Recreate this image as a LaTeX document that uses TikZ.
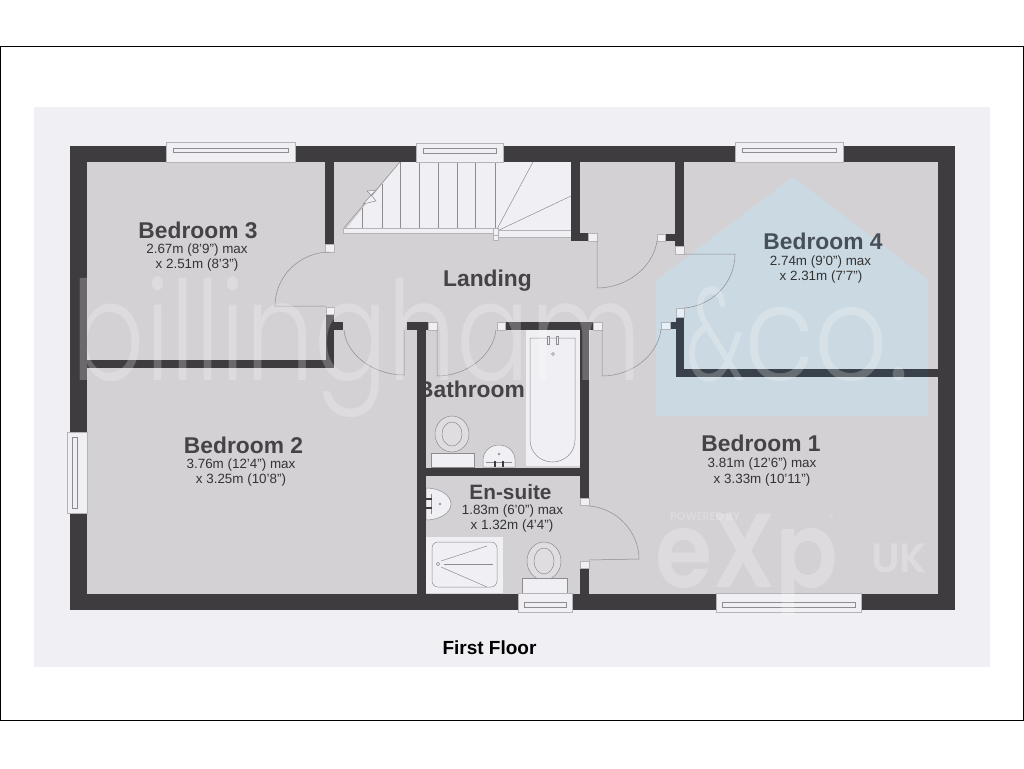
\documentclass[tikz,border=0pt]{standalone}
\usepackage{xcolor}
\usepackage{fontspec}
\setmainfont{Liberation Sans}
\newfontfamily\markfont{Poppins Light}
\newfontfamily\logofont{Poppins SemiBold}
\definecolor{wallgray}{HTML}{3F3C40}
\definecolor{wallblue}{HTML}{39424A}
\definecolor{floorgray}{HTML}{D3D1D4}
\definecolor{palegray}{HTML}{F0EFF3}
\definecolor{paleblue}{HTML}{E4F1FA}
\definecolor{houseblue}{HTML}{CBD9E2}
\definecolor{linegray}{HTML}{8E8C90}
\definecolor{framegray}{HTML}{B5B3B7}
\definecolor{labelgray}{HTML}{454347}
\definecolor{labelblue}{HTML}{47505A}
\tikzset{wall/.style={fill=wallgray}}
\tikzset{fixture/.style={draw=linegray,line width=0.5pt,fill=palegray}}
\tikzset{glass/.style={draw=framegray,line width=0.7pt,fill=palegray}}
\tikzset{thinline/.style={draw=linegray,line width=0.5pt}}
\tikzset{jamb/.style={draw=framegray,line width=0.4pt,fill=palegray}}
\tikzset{roomname/.style={text=labelgray,font=\fontsize{22.8}{24}\selectfont\bfseries,inner sep=0pt}}
\tikzset{roomsize/.style={text=black!80,font=\fontsize{13.4}{15}\selectfont,inner sep=0pt}}
\tikzset{watermark/.style={text=white,text opacity=0.23,inner sep=0pt,anchor=base west,transform shape}}
\begin{document}
\begin{tikzpicture}[x=1pt,y=-1pt]
    \useasboundingbox (0,0) rectangle (1024,768);
    % draw the page
    \fill[white] (0,0) rectangle (1024,768);
    \draw[black,line width=1pt] (0.5,47) rectangle (1023.5,720);
    \fill[palegray] (34,107) rectangle (990,667);
    \fill[floorgray] (70,146) rectangle (955,610);
    \fill[houseblue] (656,280) -- (793,177) -- (928,280) -- (928,416) -- (656,416) -- cycle;

    % draw the stairs
    \fill[palegray] (343,233) -- (400,162) -- (571,162) -- (571,237) -- (498,237) -- (498,233) -- cycle;
    \draw[thinline] (362,228) -- (362,208);
    \draw[thinline] (382,228) -- (382,184);
    \draw[thinline] (400,228) -- (400,162);
    \draw[thinline] (419,228) -- (419,162);
    \draw[thinline] (438,228) -- (438,162);
    \draw[thinline] (457,228) -- (457,162);
    \draw[thinline] (475,228) -- (475,162);
    \draw[thinline] (495,228) -- (495,162);
    \draw[thinline] (497,229) -- (533,162);
    \draw[thinline] (497,231) -- (571,196);
    \draw[thinline] (343,229) -- (400,162);
    \draw[glass,line width=0.5pt] (343,228) rectangle (493,233);
    \draw[glass,line width=0.5pt] (498,230) rectangle (571,237);
    \draw[jamb] (493,228) rectangle (498,235);
    \draw[jamb] (493,235) rectangle (498,240);
    \draw[thinline,fill=palegray] (376,190) -- (367,191) -- (372,196) -- (376,201) -- (363,204) -- cycle;

    % draw the bath and the shower
    \fill[palegray] (526,330) rectangle (580,466);
    \draw[thinline] (530,338) -- (575,338) -- (575,440) arc[start angle=0,end angle=180,x radius=22.5,y radius=22] -- cycle;
    \draw[fixture] (547,336) rectangle (549,344);
    \draw[fixture] (556,336) rectangle (558,344);
    \draw[thinline] (553,354) circle (1.5);
    \fill[palegray] (426,537) rectangle (503,593);
    \draw[thinline,rounded corners=6pt] (432,542) rectangle (497,587);
    \draw[thinline] (438,564) circle (1.7);
    \draw[thinline] (441,561) -- (487,546);
    \draw[thinline] (444,564) -- (493,564);
    \draw[thinline] (441,567) -- (487,587);

    % draw the toilets and the basins
    \draw[fixture,fill=floorgray!60!palegray] (452,434) circle[x radius=17,y radius=18];
    \draw[thinline] (452,434) circle[x radius=10,y radius=12];
    \draw[fixture] (431,453) rectangle (474,467);
    \draw[fixture] (483,467) -- (483,460) arc[start angle=180,end angle=0,x radius=16,y radius=-15] -- (515,467) -- cycle;
    \draw[thinline] (486,462) -- (512,462);
    \draw[thinline] (499,454) circle (1);
    \fill[wallgray] (494,461) rectangle (496,467);
    \fill[wallgray] (502,461) rectangle (504,467);
    \draw[fixture] (426,488) arc[start angle=90,end angle=-90,x radius=25,y radius=-16] -- cycle;
    \draw[thinline] (431,494) -- (431,514);
    \draw[thinline] (440,504) circle (1);
    \fill[wallgray] (426,498) rectangle (432,500);
    \fill[wallgray] (426,507) rectangle (432,509);
    \draw[fixture,fill=floorgray!60!palegray] (544,561) circle[x radius=17,y radius=19];
    \draw[thinline] (544,561) circle[x radius=10,y radius=13];
    \draw[fixture] (522,578) rectangle (567,593);

    % the wall cuts this label
    \node[roomname] (bathroom) at (471,389) {Bathroom};

    % draw the walls
    \fill[wall] (70,146) rectangle (955,162);
    \fill[wall] (70,594) rectangle (955,610);
    \fill[wall] (70,146) rectangle (87,610);
    \fill[wall] (938,146) rectangle (955,610);
    \fill[wall] (325,162) rectangle (334,244);
    \fill[wall] (571,162) rectangle (580,241);
    \fill[wall] (571,233) rectangle (588,241);
    \fill[wall] (675,162) rectangle (684,246);
    \fill[wall] (665,234) rectangle (675,241);
    \fill[wall] (326,314) rectangle (334,368);
    \fill[wall] (334,322) rectangle (343,330);
    \fill[wall] (87,360) rectangle (334,368);
    \fill[wall] (407,322) rectangle (428,330);
    \fill[wall] (417,330) rectangle (426,594);
    \fill[wall] (505,322) rectangle (593,330);
    \fill[wall] (580,330) rectangle (589,498);
    \fill[wall] (580,568) rectangle (589,594);
    \fill[wall] (426,468) rectangle (580,476);
    \fill[wallblue] (670,322) rectangle (676,329);
    \fill[wallblue] (676,317) rectangle (684,377);
    \fill[wallblue] (684,369) rectangle (928,377);
    \fill[wall] (928,369) rectangle (938,377);

    % draw the door ends
    \draw[jamb] (325,244) rectangle (334,252);
    \draw[jamb] (326,307) rectangle (334,314);
    \draw[jamb] (428,322) rectangle (437,330);
    \draw[jamb] (497,322) rectangle (505,330);
    \draw[jamb] (593,322) rectangle (602,330);
    \draw[jamb] (588,233) rectangle (597,241);
    \draw[jamb] (657,234) rectangle (665,241);
    \draw[jamb] (675,246) rectangle (684,254);
    \draw[jamb,fill=paleblue] (676,308) rectangle (684,317);
    \draw[jamb,fill=paleblue] (661,322) rectangle (670,329);
    \draw[jamb] (580,498) rectangle (589,505);
    \draw[jamb] (580,561) rectangle (589,568);

    % draw the doors
    \draw[thinline] (326,306) -- (275,306) .. controls (275,276) and (300,252) .. (330,252);
    \draw[thinline] (344,330) .. controls (346,355) and (374,375) .. (404,375) -- (404,330);
    \draw[thinline] (437,330) -- (437,376) .. controls (466,376) and (493,356) .. (496,330);
    \draw[thinline] (602,330) -- (602,376) .. controls (631,376) and (658,356) .. (661,329);
    \draw[thinline] (597,241) -- (597,288) .. controls (626,288) and (653,268) .. (657,241);
    \draw[thinline] (684,254) -- (735,254) .. controls (735,283) and (712,306) .. (684,308);
    \draw[thinline] (589,506) .. controls (617,508) and (639,532) .. (639,559) -- (589,560);

    % draw the windows
    \draw[glass] (166,142) rectangle (295,162);
    \draw[thinline] (173,148) rectangle (288,152);
    \draw[glass] (416,143) rectangle (503,162);
    \draw[thinline] (423,148) rectangle (496,153);
    \draw[glass] (735,142) rectangle (843,162);
    \draw[thinline] (742,148) rectangle (836,152);
    \draw[glass] (716,593) rectangle (861,612);
    \draw[thinline] (722,602) rectangle (855,607);
    \draw[glass] (518,593) rectangle (572,612);
    \draw[thinline] (524,602) rectangle (566,607);
    \draw[glass] (67,432) rectangle (87,513);
    \draw[thinline] (72,437) rectangle (77,508);

    % draw the labels
    \node[roomname] (bedroomthree) at (198,230) {Bedroom 3};
    \node[roomsize] (bedroomthreea) at (197,250) {2.67m (8’9”) max};
    \node[roomsize] (bedroomthreeb) at (197,265) {x 2.51m (8’3”)};
    \node[roomname] (landing) at (487.5,280.5) {Landing};
    \node[roomname,font=\fontsize{20.8}{22}\selectfont\bfseries] (ensuite) at (510.5,492) {En-suite};
    \node[roomsize] (ensuitea) at (512.5,511) {1.83m (6’0”) max};
    \node[roomsize] (ensuiteb) at (512,526) {x 1.32m (4’4”)};
    \node[roomname] (bedroomtwo) at (243.5,445) {Bedroom 2};
    \node[roomsize] (bedroomtwoa) at (241,465) {3.76m (12’4”) max};
    \node[roomsize] (bedroomtwob) at (241,480) {x 3.25m (10’8”)};
    \node[roomname,text=labelblue] (bedroomfour) at (823,241.5) {Bedroom 4};
    \node[roomsize] (bedroomfoura) at (820.5,262) {2.74m (9’0”) max};
    \node[roomsize] (bedroomfourb) at (821,277) {x 2.31m (7’7”)};
    \node[roomname] (bedroomone) at (761,443) {Bedroom 1};
    \node[roomsize] (bedroomonea) at (762,464) {3.81m (12’6”) max};
    \node[roomsize] (bedroomoneb) at (762,480) {x 3.33m (10’11”)};
    \node[inner sep=0pt,font=\fontsize{19}{21}\selectfont\bfseries] (floorname) at (489.5,648) {First Floor};

    % draw the watermarks
    \node[watermark,xscale=0.79,font=\fontsize{138}{140}\markfont] (markname) at (71.5,380) {billingham};
    \node[watermark,xscale=0.62,font=\fontsize{132}{134}\markfont] (markand) at (686,380) {\&};
    \node[watermark,xscale=0.87,font=\fontsize{132}{134}\markfont] (markco) at (744,380) {co.};
    \node[watermark,font=\fontsize{11}{12}\logofont] (logotop) at (670,520) {POWERED BY};
    \node[watermark,xscale=0.88,font=\fontsize{105}{107}\logofont] (logoname) at (655,587) {eXp};
    \node[watermark,font=\fontsize{41}{43}\logofont] (logouk) at (871,572) {UK};
    \node[watermark,font=\fontsize{9}{10}\logofont] (logomark) at (829,520) {®};
\end{tikzpicture}
\end{document}
